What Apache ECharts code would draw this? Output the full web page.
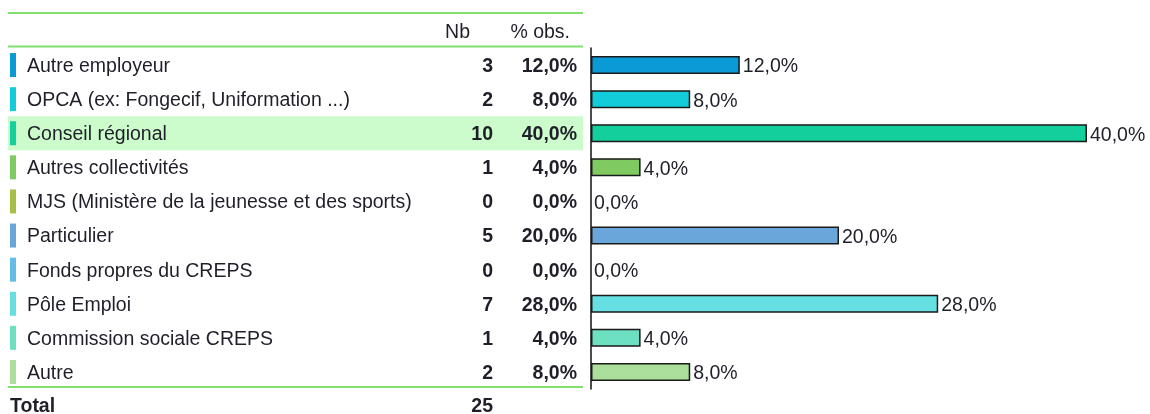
<!DOCTYPE html>
<html>
<head>
<meta charset="utf-8">
<script src="https://cdn.jsdelivr.net/npm/echarts@6/dist/echarts.min.js"></script>
<style>
  html, body { margin: 0; padding: 0; background: #fff; }
  #chart { width: 1150px; height: 414px; }
</style>
</head>
<body>
<div id="chart"></div>
<script>
var categories = [
  'Autre employeur',
  'OPCA (ex: Fongecif, Uniformation ...)',
  'Conseil régional',
  'Autres collectivités',
  'MJS (Ministère de la jeunesse et des sports)',
  'Particulier',
  'Fonds propres du CREPS',
  'Pôle Emploi',
  'Commission sociale CREPS',
  'Autre'
];
var counts = [3, 2, 10, 1, 0, 5, 0, 7, 1, 2];
var percents = [12.0, 8.0, 40.0, 4.0, 0.0, 20.0, 0.0, 28.0, 4.0, 8.0];
var colors = ['#0a9ad6', '#12cdd9', '#13cf9b', '#7fcb62', '#a7bf45',
              '#6aa6d9', '#63bde6', '#66dfe3', '#6ce0c0', '#addf9c'];
var highlighted = 'Conseil régional';
var total = 25;

var font = '"Liberation Sans", Arial, sans-serif';
var fs = 19.5;
var ink = '#1f1f2a';
var green = '#80df70';

function fmtPct(v) {
  return v.toFixed(1).replace('.', ',') + '%';
}

// text tokens pushed down a little so they sit like the reference
var rich = {
  gap: { width: 11, height: 24 },
  name: { width: 400, fontSize: fs, fontFamily: font, color: ink, lineHeight: 24, padding: [3, 0, 0, 0] },
  nb: { width: 66, align: 'right', fontSize: fs, fontWeight: 'bold', fontFamily: font, color: ink, lineHeight: 24, padding: [3, 0, 0, 0] },
  pct: { width: 84, align: 'right', fontSize: fs, fontWeight: 'bold', fontFamily: font, color: ink, lineHeight: 24, padding: [3, 0, 0, 0] }
};
colors.forEach(function (c, i) {
  rich['bul' + i] = { width: 6, height: 24, backgroundColor: c };
});

var chart = echarts.init(document.getElementById('chart'), null, { renderer: 'canvas' });

var option = {
  animation: false,
  backgroundColor: '#fff',
  grid: [
    { left: 8, top: 48, width: 575, height: 341 },
    { left: 591, top: 48, width: 496, height: 341 }
  ],
  xAxis: [
    { gridIndex: 0, type: 'value', min: 0, max: 1, show: false },
    { gridIndex: 1, type: 'value', min: 0, max: 40, show: false }
  ],
  yAxis: [
    {
      gridIndex: 0, type: 'category', inverse: true, data: categories, z: 5,
      axisLine: { show: false }, axisTick: { show: false }, splitLine: { show: false },
      axisLabel: {
        inside: true, margin: 2, align: 'left', rich: rich,
        formatter: function (val, idx) {
          return '{bul' + idx + '|}{gap|}{name|' + val + '}{nb|' + counts[idx] + '}{pct|' + fmtPct(percents[idx]) + '}';
        }
      }
    },
    {
      gridIndex: 1, type: 'category', inverse: true, data: categories,
      axisLine: { show: true, lineStyle: { color: '#111', width: 1.5 } },
      axisTick: { show: false }, axisLabel: { show: false }, splitLine: { show: false }
    }
  ],
  series: [
    {
      type: 'bar', xAxisIndex: 0, yAxisIndex: 0, barWidth: '100%', silent: true,
      data: categories.map(function (c) { return c === highlighted ? 1 : null; }),
      itemStyle: { color: '#ccfccc' }
    },
    {
      type: 'bar', xAxisIndex: 1, yAxisIndex: 1, barWidth: 18,
      data: percents.map(function (v, i) {
        return {
          value: v,
          itemStyle: { color: colors[i], borderColor: '#1a1a1a', borderWidth: v > 0 ? 1.5 : 0 }
        };
      }),
      label: {
        show: true, position: 'right', distance: 3, offset: [0, 2],
        fontSize: fs, fontFamily: font, color: ink,
        formatter: function (p) { return fmtPct(p.value); }
      }
    }
  ],
  graphic: [
    { type: 'line', shape: { x1: 8, y1: 13, x2: 583, y2: 13 }, style: { stroke: green, lineWidth: 2 } },
    { type: 'line', shape: { x1: 8, y1: 46.5, x2: 583, y2: 46.5 }, style: { stroke: green, lineWidth: 2 } },
    { type: 'line', shape: { x1: 8, y1: 387, x2: 583, y2: 387 }, style: { stroke: green, lineWidth: 2 } },
    { type: 'text', x: 470, y: 33, style: { text: 'Nb', font: fs + 'px ' + font, fill: ink, textAlign: 'right', textVerticalAlign: 'middle' } },
    { type: 'text', x: 570, y: 33, style: { text: '% obs.', font: fs + 'px ' + font, fill: ink, textAlign: 'right', textVerticalAlign: 'middle' } },
    { type: 'text', x: 10, y: 407, style: { text: 'Total', font: 'bold ' + fs + 'px ' + font, fill: ink, textAlign: 'left', textVerticalAlign: 'middle' } },
    { type: 'text', x: 493, y: 407, style: { text: String(total), font: 'bold ' + fs + 'px ' + font, fill: ink, textAlign: 'right', textVerticalAlign: 'middle' } }
  ]
};

chart.setOption(option);
</script>
</body>
</html>
